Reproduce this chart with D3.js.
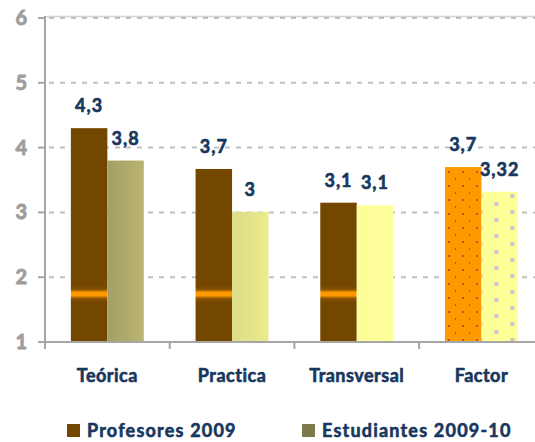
<!DOCTYPE html>
<html>
<head>
<meta charset="utf-8">
<script src="https://cdn.jsdelivr.net/npm/d3@7"></script>
<style>
  html, body { margin: 0; padding: 0; background: #fff; }
  svg { display: block; font-family: Lato, "DejaVu Sans", sans-serif; font-weight: 700; }
</style>
</head>
<body>
<svg id="chart" width="535" height="442"></svg>
<script>
// Chart data
const categories = ['Teórica', 'Practica', 'Transversal', 'Factor'];
const seriesNames = ['Profesores 2009', 'Estudiantes 2009-10'];
const profesores = [4.3, 3.67, 3.15, 3.7];
const estudiantes = [3.8, 3.01, 3.11, 3.32];
const profesoresLabels = ['4,3', '3,7', '3,1', '3,7'];
const estudiantesLabels = ['3,8', '3', '3,1', '3,32'];
const yTicks = [1, 2, 3, 4, 5, 6];

const svg = d3.select('#chart');
const width = 535;
const navy = '#17375e';

// Scales
const plotLeft = 45;
const step = 124.7;
const x = d3.scaleBand()
    .domain(categories)
    .range([plotLeft, plotLeft + step * categories.length])
    .paddingInner(0.415)
    .paddingOuter(0.2075);

const x1 = d3.scaleBand()
    .domain(seriesNames)
    .range([0, x.bandwidth()]);

const y = d3.scaleLinear()
    .domain([1, 6])
    .range([342, 18]);

// Fills
const defs = svg.append('defs');

const stripe = defs.append('linearGradient')
    .attr('id', 'brownStripe')
    .attr('gradientUnits', 'userSpaceOnUse')
    .attr('x1', 0).attr('x2', 0)
    .attr('y1', y(1.74) - 8).attr('y2', y(1.74) + 8);
[[0, '#744700'], [0.22, '#8a5300'], [0.4, '#ff9900'], [0.6, '#ff9900'], [0.78, '#8a5300'], [1, '#744700']]
    .forEach(([o, c]) => stripe.append('stop').attr('offset', o).attr('stop-color', c));

function hGrad(id, c0, c1) {
    const g = defs.append('linearGradient').attr('id', id)
        .attr('x1', 0).attr('x2', 1).attr('y1', 0).attr('y2', 0);
    g.append('stop').attr('offset', 0).attr('stop-color', c0);
    g.append('stop').attr('offset', 1).attr('stop-color', c1);
}
hGrad('oliveGrad', '#a39e66', '#bab570');
hGrad('paleGrad', '#dddc87', '#ebeb8f');
hGrad('yellowGrad', '#fdfd97', '#ffff9c');

// bar x positions for pattern alignment
const factorX0 = x('Factor');
const orange = defs.append('pattern')
    .attr('id', 'orangeDots')
    .attr('patternUnits', 'userSpaceOnUse')
    .attr('x', factorX0).attr('y', 0)
    .attr('width', 14).attr('height', 14);
orange.append('rect').attr('width', 14).attr('height', 14).attr('fill', '#ff9900');
orange.append('rect').attr('x', 6).attr('y', 3).attr('width', 2).attr('height', 2).attr('fill', '#c0561a');
orange.append('rect').attr('x', 13).attr('y', 10).attr('width', 2).attr('height', 2).attr('fill', '#c0561a');

const squares = defs.append('pattern')
    .attr('id', 'yellowSquares')
    .attr('patternUnits', 'userSpaceOnUse')
    .attr('x', factorX0 + x1(seriesNames[1])).attr('y', y(1) - 4)
    .attr('width', 32).attr('height', 16);
squares.append('rect').attr('width', 32).attr('height', 16).attr('fill', '#ffff99');
squares.append('rect').attr('x', 0).attr('y', 0).attr('width', 4).attr('height', 4).attr('fill', '#c8c8c8');
squares.append('rect').attr('x', 16).attr('y', 8).attr('width', 4).attr('height', 4).attr('fill', '#c8c8c8');

const profFill = ['url(#brownStripe)', 'url(#brownStripe)', 'url(#brownStripe)', 'url(#orangeDots)'];
const estFill = ['url(#oliveGrad)', 'url(#paleGrad)', 'url(#yellowGrad)', 'url(#yellowSquares)'];

// Gridlines
svg.append('line')
    .attr('x1', plotLeft).attr('x2', width)
    .attr('y1', y(6) - 1.5).attr('y2', y(6) - 1.5)
    .attr('stroke', '#d4d4d4').attr('stroke-width', 1.5);

svg.append('g')
    .selectAll('line')
    .data(yTicks.filter(d => d > 1))
    .enter()
    .append('line')
        .attr('x1', plotLeft + 4).attr('x2', width)
        .attr('y1', d => y(d)).attr('y2', d => y(d))
        .attr('stroke', '#c0c0c0')
        .attr('stroke-width', 2)
        .attr('stroke-dasharray', '5,6');

// Bars
const rows = categories.map((c, i) => ({
    category: c,
    bars: [
        { series: seriesNames[0], value: profesores[i], label: profesoresLabels[i], fill: profFill[i] },
        { series: seriesNames[1], value: estudiantes[i], label: estudiantesLabels[i], fill: estFill[i] }
    ]
}));

const groups = svg.append('g')
    .selectAll('g')
    .data(rows)
    .enter()
    .append('g')
        .attr('transform', d => `translate(${x(d.category)},0)`);

groups.selectAll('rect')
    .data(d => d.bars)
    .enter()
    .append('rect')
        .attr('x', d => x1(d.series))
        .attr('y', d => y(d.value))
        .attr('width', x1.bandwidth())
        .attr('height', d => y(1) - y(d.value))
        .attr('fill', d => d.fill);

// heavier text: same-colour thin outline
function heavy(sel, color, w) {
    sel.attr('fill', color).attr('stroke', color).attr('stroke-width', w)
        .attr('stroke-linejoin', 'round');
}

groups.selectAll('text')
    .data(d => d.bars)
    .enter()
    .append('text')
        .attr('x', d => x1(d.series) + x1.bandwidth() / 2)
        .attr('y', d => y(d.value) - 16)
        .attr('text-anchor', 'middle')
        .style('font-size', '18px')
        .style('letter-spacing', '1px')
        .call(heavy, navy, 0.6)
        .text(d => d.label);

// Axes
const axisColor = '#a6a6a6';
const axis = svg.append('g').attr('stroke', axisColor).attr('stroke-width', 2);

axis.append('line')
    .attr('x1', plotLeft).attr('x2', plotLeft)
    .attr('y1', y(6) - 2).attr('y2', y(1));
axis.append('line')
    .attr('x1', plotLeft - 7).attr('x2', width)
    .attr('y1', y(1)).attr('y2', y(1));

axis.selectAll('.ytick')
    .data(yTicks)
    .enter()
    .append('line')
        .attr('x1', plotLeft - 7).attr('x2', plotLeft)
        .attr('y1', d => y(d)).attr('y2', d => y(d));

axis.selectAll('.xtick')
    .data(d3.range(categories.length + 1))
    .enter()
    .append('line')
        .attr('x1', i => plotLeft + i * x.step())
        .attr('x2', i => plotLeft + i * x.step())
        .attr('y1', y(1)).attr('y2', y(1) + 7);

svg.append('g')
    .selectAll('text')
    .data(yTicks)
    .enter()
    .append('text')
        .attr('x', 27)
        .attr('y', d => y(d) + 7)
        .attr('text-anchor', 'end')
        .style('font-size', '20px')
        .call(heavy, '#9e9e9e', 0.9)
        .text(d => d);

svg.append('g')
    .selectAll('text')
    .data(categories)
    .enter()
    .append('text')
        .attr('x', d => x(d) + x.bandwidth() / 2)
        .attr('y', 382)
        .attr('text-anchor', 'middle')
        .style('font-size', '18px')
        .style('letter-spacing', '0.5px')
        .call(heavy, navy, 0.6)
        .text(d => d);

// Legend
const legendColors = ['#744700', '#7d7a4a'];
const legendX = [67, 302];
const legend = svg.append('g')
    .selectAll('g')
    .data(seriesNames)
    .enter()
    .append('g')
        .attr('transform', (d, i) => `translate(${legendX[i]},424)`);

legend.append('rect')
    .attr('width', 13).attr('height', 13)
    .attr('fill', (d, i) => legendColors[i]);

legend.append('text')
    .attr('x', 20)
    .attr('y', 13)
    .style('font-size', '18px')
    .style('letter-spacing', '1.2px')
    .call(heavy, navy, 0.6)
    .text(d => d);
</script>
</body>
</html>
